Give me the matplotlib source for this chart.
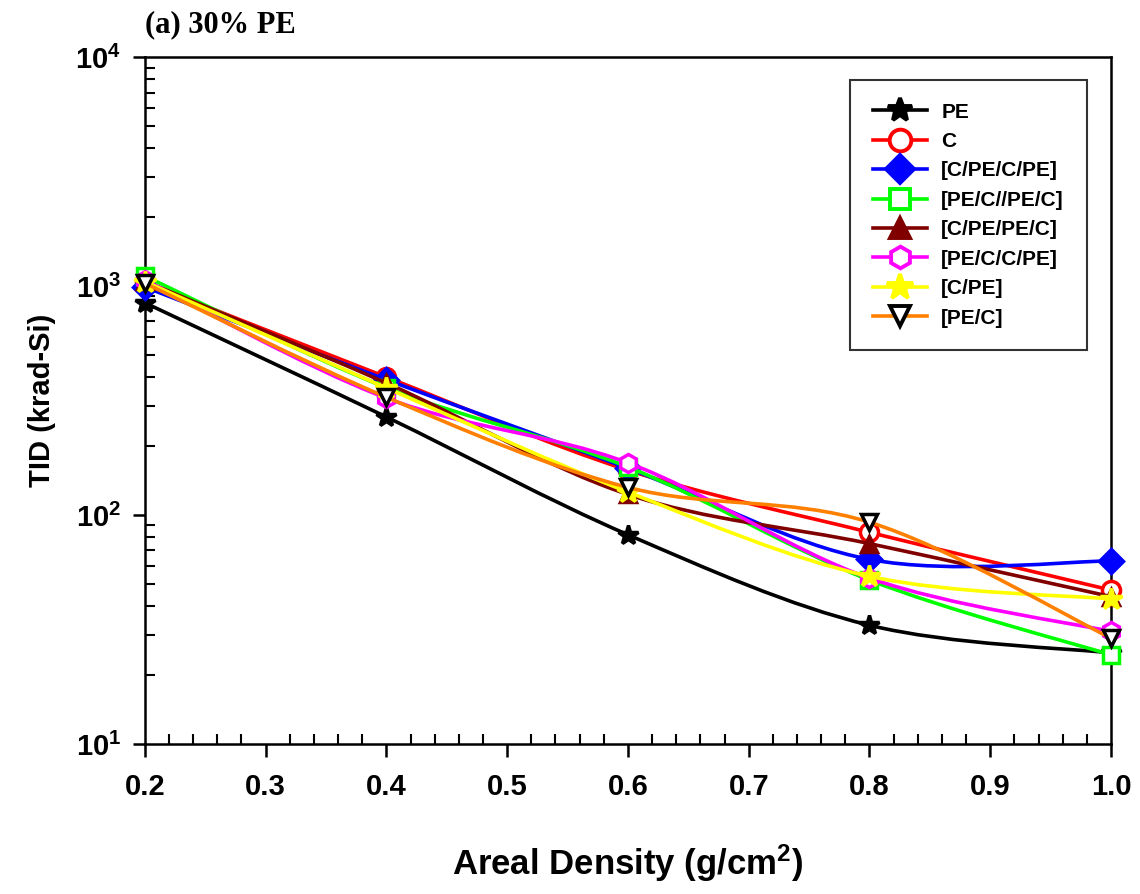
import numpy as np
import matplotlib
matplotlib.use('Agg')
import matplotlib.pyplot as plt
from matplotlib.path import Path
from matplotlib.patches import PathPatch
from matplotlib.lines import Line2D
from matplotlib.ticker import FixedLocator, NullFormatter, LogLocator

plt.rcParams['font.family'] = ['Liberation Sans', 'DejaVu Sans']
plt.rcParams['font.weight'] = 'bold'
plt.rcParams['mathtext.fontset'] = 'custom'
plt.rcParams['mathtext.rm'] = 'Liberation Sans:bold'
plt.rcParams['mathtext.bf'] = 'Liberation Sans:bold'
plt.rcParams['mathtext.it'] = 'Liberation Sans:bold'

# areal density (g/cm2)
density = [0.2, 0.4, 0.6, 0.8, 1.0]

# TID (krad-Si) per shield configuration
tid_pe = [845, 268, 82, 33, 25]
tid_c = [1040, 400, 157, 84, 47]
tid_cpecpe = [990, 390, 160, 64, 63]
tid_pecpec = [1105, 360, 162, 52, 24.5]
tid_cpepec = [1050, 377, 123, 75, 44]
tid_peccpe = [1060, 324, 169, 53, 31]
tid_cpe = [1045, 359, 126, 54, 43]
tid_pec = [1030, 327, 132, 93, 29]

labels = ['PE', 'C', '[C/PE/C/PE]', '[PE/C//PE/C]', '[C/PE/PE/C]',
          '[PE/C/C/PE]', '[C/PE]', '[PE/C]']
series = [tid_pe, tid_c, tid_cpecpe, tid_pecpec, tid_cpepec,
          tid_peccpe, tid_cpe, tid_pec]

# line colour, marker, marker face, marker edge, marker size
styles = [
    ('black', '*', 'black', 'black', 15),
    ('#ff0000', 'o', 'white', '#ff0000', 13),
    ('#0000ff', 'D', '#0000ff', '#0000ff', 12),
    ('#00ff00', 's', 'white', '#00ff00', 12),
    ('#800000', '^', '#800000', '#800000', 12),
    ('#ff00ff', 'h', 'white', '#ff00ff', 13),
    ('#ffff00', '*', '#ffff00', '#ffff00', 16),
    ('#ff8000', 'v', 'white', 'black', 12),
]


def smooth_path(x, y):
    # bezier through the points, built in (x, log y) space
    pts = np.column_stack([x, np.log10(y)])
    n = len(pts)
    verts = [pts[0]]
    codes = [Path.MOVETO]
    for i in range(n - 1):
        p0 = pts[i - 1] if i > 0 else pts[i]
        p1 = pts[i]
        p2 = pts[i + 1]
        p3 = pts[i + 2] if i + 2 < n else pts[i + 1]
        verts += [p1 + (p2 - p0) / 6, p2 - (p3 - p1) / 6, p2]
        codes += [Path.CURVE4] * 3
    verts = np.array(verts)
    verts[:, 1] = 10 ** verts[:, 1]
    return Path(verts, codes)


fig = plt.figure(figsize=(11.4, 8.94), dpi=100)
ax = fig.add_axes([0.127, 0.1678, 0.8476, 0.7684])
ax.set_yscale('log')

handles = []
for k, (vals, lab, st) in enumerate(zip(series, labels, styles)):
    col, mk, mfc, mec, ms = st
    patch = PathPatch(smooth_path(density, vals), fill=False, edgecolor=col,
                      lw=2.6, zorder=2 + k, capstyle='round', joinstyle='round')
    ax.add_patch(patch)
    ax.plot(density, vals, ls='none', marker=mk, mfc=mfc, mec=mec, ms=ms,
            mew=2.5, zorder=2 + k, clip_on=False)
    handles.append(Line2D([], [], color=col, lw=2.6, marker=mk, mfc=mfc,
                          mec=mec, ms=ms * 1.2, mew=2.8))

ax.set_xlim(0.2, 1.0)
ax.set_ylim(10, 10000)

ax.xaxis.set_major_locator(FixedLocator(np.round(np.arange(0.2, 1.01, 0.1), 1)))
ax.xaxis.set_minor_locator(FixedLocator(np.arange(0.2, 1.001, 0.02)))
ax.set_xticklabels(['%.1f' % v for v in np.arange(0.2, 1.01, 0.1)])
ax.yaxis.set_major_locator(FixedLocator([10, 100, 1000, 10000]))
ax.set_yticklabels([r'$10^{1}$', r'$10^{2}$', r'$10^{3}$', r'$10^{4}$'])
ax.yaxis.set_minor_locator(LogLocator(base=10, subs=np.arange(2, 10)))
ax.yaxis.set_minor_formatter(NullFormatter())

ax.tick_params(axis='both', which='major', direction='out', length=9,
               width=1.8, labelsize=21, top=False, right=False)
ax.tick_params(axis='both', which='minor', direction='in', length=7,
               width=1.5, top=False, right=False)
ax.tick_params(axis='x', which='major', pad=12)
ax.tick_params(axis='y', which='major', pad=8)
for sp in ax.spines.values():
    sp.set_linewidth(1.8)

ax.set_xlabel(r'Areal Density (g/cm$^{\mathbf{2}}$)', fontsize=25,
              fontweight='bold', labelpad=30)
ax.set_ylabel('TID (krad-Si)', fontsize=21, fontweight='bold', labelpad=14)
fig.text(0.127, 0.972, '(a) 30% PE', fontsize=22, fontweight='bold',
         family='Liberation Serif', va='center', ha='left')

leg = ax.legend(handles, labels, loc='upper right',
                bbox_to_anchor=(0.975, 0.967), fontsize=15, frameon=True,
                fancybox=False, edgecolor='black', handlelength=2.6,
                borderpad=1.1, labelspacing=0.5, handletextpad=0.7,
                borderaxespad=0)
leg.get_frame().set_linewidth(1.5)
for t in leg.get_texts():
    t.set_fontweight('bold')

fig.savefig('out.png', dpi=100)
